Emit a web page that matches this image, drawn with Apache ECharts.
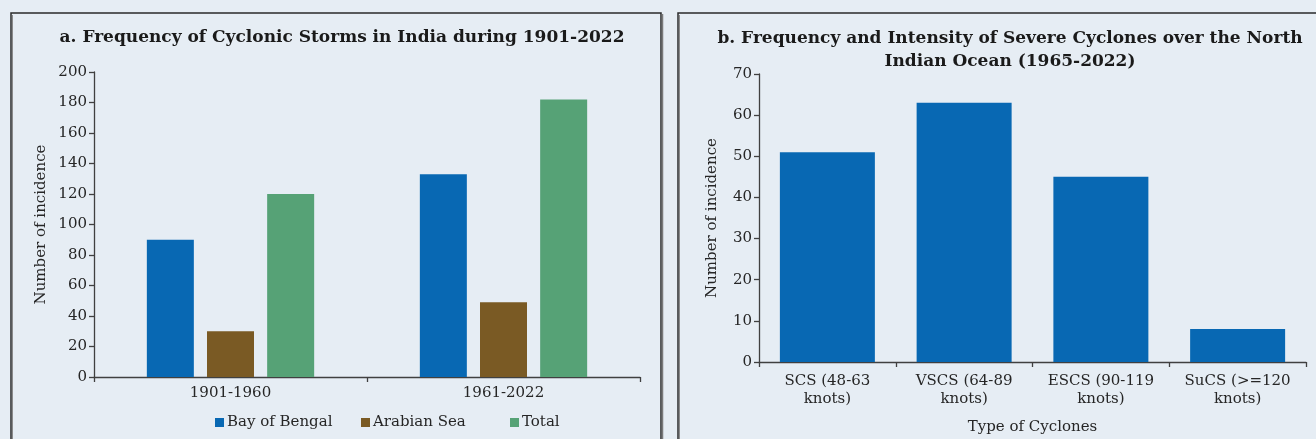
<!DOCTYPE html>
<html>
<head>
<meta charset="utf-8">
<script src="https://cdn.jsdelivr.net/npm/echarts@6/dist/echarts.min.js"></script>
<style>
html,body{margin:0;padding:0;background:#e6edf4;}
#c{width:1316px;height:439px;}
</style>
</head>
<body>
<div id="c"></div>
<script>
// Panel a
const periods = ['1901-1960', '1961-2022'];
const bayOfBengal = [90, 133];
const arabianSea = [30, 49];
const total = [120, 182];
const yTicksA = [0, 200, 20]; // min, max, interval

// Panel b
const cycloneTypes = ['SCS (48-63\nknots)', 'VSCS (64-89\nknots)', 'ESCS (90-119\nknots)', 'SuCS (>=120\nknots)'];
const cycloneCounts = [51, 63, 45, 8];
const yTicksB = [0, 70, 10];

const FONT = '"DejaVu Serif", serif';
const TXT = '#262626';
const AX = '#404040';

const chart = echarts.init(document.getElementById('c'), null, {renderer: 'canvas'});

const axisCommon = {
  axisLine: {show: true, lineStyle: {color: AX, width: 1.3}},
  axisTick: {show: true, length: 5, lineStyle: {color: AX, width: 1.3}},
  axisLabel: {color: TXT, fontFamily: FONT, fontSize: 15},
  splitLine: {show: false},
  nameTextStyle: {color: TXT, fontFamily: FONT, fontSize: 15}
};

const legendBase = {
  itemWidth: 9, itemHeight: 9, itemGap: 0, icon: 'rect',
  textStyle: {color: TXT, fontFamily: FONT, fontSize: 15, padding: [0, 0, 0, -2]},
  top: 410
};

chart.setOption({
  backgroundColor: '#e6edf4',
  animation: false,
  title: [
    {text: 'a. Frequency of Cyclonic Storms in India during 1901-2022', left: 337, top: 24, textAlign: 'center',
     textStyle: {fontFamily: FONT, fontSize: 17, fontWeight: 'bold', color: '#1a1a1a'}},
    {text: 'b. Frequency and Intensity of Severe Cyclones over the North\nIndian Ocean (1965-2022)', left: 1005, top: 22, textAlign: 'center',
     textStyle: {fontFamily: FONT, fontSize: 17, fontWeight: 'bold', color: '#1a1a1a', lineHeight: 23}}
  ],
  legend: [
    Object.assign({}, legendBase, {left: 210, data: ['Bay of Bengal']}),
    Object.assign({}, legendBase, {left: 356, data: ['Arabian Sea']}),
    Object.assign({}, legendBase, {left: 505, data: ['Total']})
  ],
  grid: [
    {left: 94, top: 72, width: 546, height: 305, outerBoundsMode: 'none', containLabel: false},
    {left: 759, top: 74, width: 547, height: 288, outerBoundsMode: 'none', containLabel: false}
  ],
  xAxis: [
    Object.assign({}, axisCommon, {type: 'category', gridIndex: 0, data: periods,
      axisLabel: Object.assign({}, axisCommon.axisLabel, {margin: 9})}),
    Object.assign({}, axisCommon, {type: 'category', gridIndex: 1, data: cycloneTypes,
      name: 'Type of Cyclones', nameLocation: 'middle', nameGap: 58,
      axisLabel: Object.assign({}, axisCommon.axisLabel, {margin: 10, lineHeight: 18, interval: 0})})
  ],
  yAxis: [
    Object.assign({}, axisCommon, {type: 'value', gridIndex: 0, min: yTicksA[0], max: yTicksA[1], interval: yTicksA[2],
      name: 'Number of incidence', nameLocation: 'middle', nameGap: 45,
      axisLabel: Object.assign({}, axisCommon.axisLabel, {margin: 7})}),
    Object.assign({}, axisCommon, {type: 'value', gridIndex: 1, min: yTicksB[0], max: yTicksB[1], interval: yTicksB[2],
      name: 'Number of incidence', nameLocation: 'middle', nameGap: 39,
      axisLabel: Object.assign({}, axisCommon.axisLabel, {margin: 7})})
  ],
  series: [
    {name: 'Bay of Bengal', type: 'bar', xAxisIndex: 0, yAxisIndex: 0, data: bayOfBengal,
     barWidth: 47, barGap: '28%', itemStyle: {color: '#0868b3'}},
    {name: 'Arabian Sea', type: 'bar', xAxisIndex: 0, yAxisIndex: 0, data: arabianSea,
     barWidth: 47, barGap: '28%', itemStyle: {color: '#7a5a24'}},
    {name: 'Total', type: 'bar', xAxisIndex: 0, yAxisIndex: 0, data: total,
     barWidth: 47, barGap: '28%', itemStyle: {color: '#56a276'}},
    {name: 'Cyclones', type: 'bar', xAxisIndex: 1, yAxisIndex: 1, data: cycloneCounts,
     barWidth: 95, itemStyle: {color: '#0868b3'}}
  ],
  graphic: [
    {type: 'rect', shape: {x: 11, y: 13, width: 650, height: 440}, style: {fill: 'none', stroke: '#2a2a2a', lineWidth: 1.5}, silent: true, z: 100},
    {type: 'line', shape: {x1: 662.5, y1: 14, x2: 662.5, y2: 439}, style: {stroke: '#7a7a7a', lineWidth: 1.5}, silent: true, z: 100},
    {type: 'line', shape: {x1: 12.5, y1: 15, x2: 12.5, y2: 439}, style: {stroke: '#8a8a8a', lineWidth: 1}, silent: true, z: 100},
    {type: 'rect', shape: {x: 678, y: 13, width: 660, height: 440}, style: {fill: 'none', stroke: '#2a2a2a', lineWidth: 1.5}, silent: true, z: 100},
    {type: 'line', shape: {x1: 679.5, y1: 15, x2: 679.5, y2: 439}, style: {stroke: '#8a8a8a', lineWidth: 1}, silent: true, z: 100}
  ]
});
</script>
</body>
</html>
